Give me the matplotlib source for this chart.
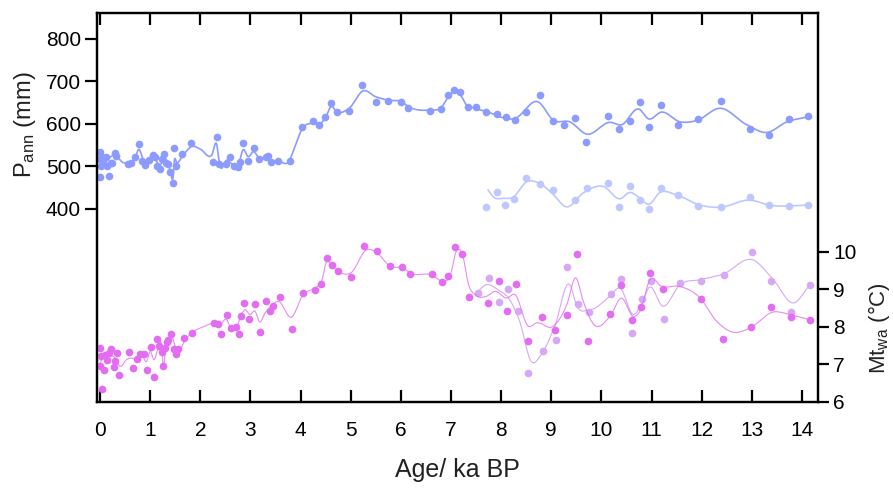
import numpy as np
import matplotlib
matplotlib.use("Agg")
from matplotlib import pyplot as plt

plt.rcParams['font.family'] = ['Liberation Sans', 'DejaVu Sans']
plt.rcParams['mathtext.fontset'] = 'custom'
plt.rcParams['mathtext.rm'] = 'Liberation Sans'
plt.rcParams['mathtext.it'] = 'Liberation Sans'

# P_ann, main record (points)
p_age = [0.0, 0.0, 0.0, 0.02, 0.05, 0.07, 0.11, 0.14, 0.17, 0.21, 0.24, 0.30, 0.32,
         0.56, 0.61, 0.69, 0.77, 0.84, 0.90, 0.98, 1.05, 1.09, 1.14, 1.19, 1.24, 1.28,
         1.31, 1.35, 1.39, 1.46, 1.47, 1.52, 1.64, 1.81, 2.26, 2.33, 2.38, 2.51, 2.59,
         2.67, 2.76, 2.80, 2.85, 2.95, 3.07, 3.17, 3.31, 3.36, 3.42, 3.56, 3.79, 4.03,
         4.25, 4.37, 4.49, 4.61, 4.72, 4.97, 5.23, 5.50, 5.75, 6.00, 6.15, 6.59, 6.81,
         6.94, 7.06, 7.19, 7.33, 7.49, 7.70, 7.91, 8.09, 8.28, 8.50, 8.78, 9.04, 9.26,
         9.48, 9.69, 10.14, 10.35, 10.57, 10.77, 10.94, 11.19, 11.52, 11.93, 12.39,
         12.96, 13.35, 13.75, 14.13]
p_val = [535, 517, 476, 500, 523, 511, 523, 500, 478, 508, 509, 531, 525,
         505, 509, 523, 553, 513, 504, 515, 527, 523, 500, 493, 517, 529,
         508, 505, 488, 462, 543, 501, 529, 555, 511, 570, 505, 505, 523,
         501, 499, 511, 555, 513, 543, 517, 522, 525, 510, 513, 513, 592,
         608, 597, 616, 650, 628, 631, 692, 652, 655, 652, 637, 631, 635,
         668, 680, 675, 641, 641, 629, 624, 616, 610, 627, 667, 608, 597,
         614, 557, 619, 588, 608, 652, 593, 644, 597, 611, 655,
         589, 573, 612, 618]
# P_ann, main record (smoothed curve)
p_curve_age = [0.0, 0.1, 0.3, 0.45, 0.56, 0.7, 0.77, 0.87, 1.06, 1.2, 1.3, 1.4, 1.46,
               1.48, 1.53, 1.66, 1.83, 2.0, 2.23, 2.33, 2.38, 2.53, 2.66, 2.76, 2.85,
               2.96, 3.06, 3.18, 3.32, 3.42, 3.59, 3.76, 3.89, 4.02, 4.25, 4.39, 4.49,
               4.61, 4.72, 4.97, 5.25, 5.5, 5.75, 6.02, 6.15, 6.58, 6.81, 6.95, 7.08,
               7.19, 7.31, 7.38, 7.71, 8.28, 8.74, 9.04, 9.37, 9.71, 10.17, 10.4, 10.75,
               10.94, 11.2, 11.57, 11.9, 12.37, 12.9, 13.3, 13.7, 14.13]
p_curve_val = [522, 515, 527, 510, 508, 520, 540, 515, 523, 504, 519, 492, 478,
               511, 508, 527, 547, 541, 527, 551, 508, 515, 504, 504, 539,
               523, 535, 519, 523, 515, 511, 511, 547, 586, 602, 601, 613,
               641, 629, 637, 678, 664, 656, 652, 641, 633, 639, 664, 676,
               668, 645, 641, 629, 613, 652, 609, 605, 576, 604, 598, 635,
               612, 628, 605, 608, 637, 598, 580, 605, 617]

# P_ann, second record
p2_age = [7.70, 7.91, 8.08, 8.26, 8.50, 8.78, 9.04, 9.48, 9.71, 10.14, 10.36, 10.57,
          10.77, 10.94, 11.19, 11.52, 11.92, 12.39, 12.96, 13.35, 13.75, 14.13]
p2_val = [405, 439, 409, 423, 474, 458, 445, 420, 449, 462, 405, 454,
          420, 400, 449, 433, 408, 404, 429, 409, 408, 409]
p2_curve_age = [7.74, 7.85, 8.04, 8.24, 8.51, 8.81, 9.01, 9.31, 9.64, 10.04, 10.37,
                10.57, 10.77, 10.94, 11.17, 11.5, 11.97, 12.37, 12.96, 13.36, 14.13]
p2_curve_val = [445, 428, 425, 428, 464, 457, 438, 405, 438, 453, 424,
                439, 425, 411, 439, 433, 409, 404, 421, 409, 409]

# Mt_wa, main record
t_age = [0.0, 0.03, 0.0, 0.05, 0.08, 0.10, 0.13, 0.18, 0.21, 0.27, 0.30, 0.33, 0.37,
         0.58, 0.65, 0.73, 0.80, 0.88, 0.94, 1.01, 1.08, 1.13, 1.18, 1.23, 1.26, 1.30,
         1.33, 1.36, 1.42, 1.48, 1.51, 1.56, 1.68, 1.84, 2.27, 2.36, 2.41, 2.54, 2.61,
         2.71, 2.78, 2.82, 2.88, 2.98, 3.09, 3.20, 3.32, 3.39, 3.45, 3.59, 3.82, 4.05,
         4.29, 4.40, 4.52, 4.63, 4.75, 5.00, 5.26, 5.52, 5.78, 6.03, 6.19, 6.62, 6.83,
         6.95, 7.09, 7.23, 7.36, 7.74, 7.95, 8.12, 8.30, 8.54, 8.82, 9.08, 9.31, 9.52,
         9.74, 10.18, 10.40, 10.61, 10.80, 10.97, 11.23, 11.98, 12.43, 12.99, 13.39,
         13.79, 14.17]
t_val = [7.44, 7.22, 6.95, 6.35, 6.86, 7.26, 7.13, 7.31, 7.41, 6.92, 7.08, 7.31, 6.71,
         7.33, 6.91, 7.15, 7.29, 7.29, 6.84, 7.47, 6.67, 7.68, 7.48, 7.32, 6.95, 7.45,
         7.61, 7.66, 7.81, 7.41, 7.29, 7.41, 7.70, 7.84, 8.11, 8.09, 7.82, 8.32, 7.97,
         7.99, 7.81, 8.30, 8.65, 8.21, 8.62, 7.87, 8.70, 8.42, 8.57, 8.80, 7.95, 8.91,
         8.98, 9.15, 9.84, 9.66, 9.48, 9.32, 10.17, 10.02, 9.62, 9.60, 9.42, 9.42, 9.19,
         9.35, 10.13, 9.95, 8.79, 8.64, 9.23, 8.43, 9.15, 7.63, 8.27, 7.93, 8.31, 9.94,
         7.63, 8.35, 9.11, 8.19, 8.52, 9.44, 9.00, 8.75, 7.69, 7.99, 8.52,
         8.26, 8.19]
t_curve_age = [0.0, 0.03, 0.17, 0.3, 0.4, 0.53, 0.63, 0.73, 0.83, 0.93, 1.0, 1.08,
               1.16, 1.23, 1.26, 1.31, 1.38, 1.43, 1.5, 1.56, 1.7, 1.83, 2.09, 2.29,
               2.39, 2.53, 2.59, 2.73, 2.82, 2.89, 2.99, 3.09, 3.19, 3.29, 3.39, 3.56,
               3.82, 4.05, 4.29, 4.42, 4.52, 4.63, 4.75, 5.0, 5.32, 5.53, 5.78, 6.05,
               6.19, 6.61, 6.85, 6.98, 7.11, 7.23, 7.35, 7.48, 7.71, 7.88, 8.11, 8.28,
               8.54, 8.71, 9.04, 9.31, 9.49, 9.64, 9.84, 10.17, 10.4, 10.64, 10.77,
               10.97, 11.2, 11.57, 11.97, 12.3, 12.63, 12.96, 13.43, 13.76, 14.16]
t_curve_val = [7.0, 7.13, 7.26, 7.17, 6.95, 7.13, 7.17, 7.13, 7.26, 7.08, 7.35, 7.13,
               7.44, 7.48, 6.95, 7.44, 7.66, 7.75, 7.48, 7.35, 7.66, 7.84, 8.02, 8.11,
               8.06, 8.19, 8.02, 8.02, 8.33, 8.46, 8.33, 8.42, 8.13, 8.37, 8.52, 8.68,
               8.26, 8.86, 9.04, 9.22, 9.75, 9.62, 9.48, 9.44, 10.06, 9.97, 9.62, 9.57,
               9.44, 9.39, 9.23, 9.35, 10.03, 9.93, 9.13, 8.86, 8.82, 8.95, 8.77, 8.86,
               8.02, 8.11, 8.02, 8.59, 9.31, 8.68, 8.08, 8.28, 8.77, 8.28, 8.42,
               9.26, 9.08, 9.08, 8.77, 8.15, 7.86, 7.97, 8.40, 8.33, 8.19]

# Mt_wa, second record
t2_age = [7.54, 7.76, 7.96, 8.14, 8.33, 8.54, 8.83, 9.09, 9.31, 9.53, 9.76, 10.19,
          10.40, 10.62, 10.81, 10.99, 11.25, 11.57, 11.98, 12.44, 13.00, 13.39, 13.79, 14.17]
t2_val = [8.91, 9.31, 8.66, 9.00, 8.43, 6.76, 7.37, 7.66, 9.60, 8.61, 8.39, 8.87,
          9.28, 7.84, 8.74, 9.23, 8.20, 9.17, 9.23, 9.39, 10.00, 9.23, 8.40, 9.11]
t2_curve_age = [7.5, 7.71, 7.94, 8.17, 8.37, 8.6, 8.8, 9.07, 9.37, 9.5, 9.77, 10.17,
                10.37, 10.64, 10.84, 10.94, 11.23, 11.57, 11.97, 12.43, 13.02, 13.43,
                13.83, 14.16]
t2_curve_val = [8.9, 9.13, 8.99, 8.73, 8.15, 7.08, 7.26, 8.02, 9.13, 8.59, 8.46, 8.82,
                9.04, 8.33, 8.73, 9.04, 8.55, 9.13, 9.26, 9.41, 9.79, 9.26, 8.64, 9.13]


def smooth(xs, ys, n=12):
    # cubic Hermite through the curve knots, just for drawing
    x = np.asarray(xs, float)
    y = np.asarray(ys, float)
    m = np.gradient(y, x)
    t = np.linspace(0, 1, n)
    out_x, out_y = [], []
    for i in range(len(x) - 1):
        h = x[i + 1] - x[i]
        h00 = 2 * t**3 - 3 * t**2 + 1
        h10 = t**3 - 2 * t**2 + t
        h01 = -2 * t**3 + 3 * t**2
        h11 = t**3 - t**2
        out_x.append(x[i] + h * t)
        out_y.append(h00 * y[i] + h10 * h * m[i] + h01 * y[i + 1] + h11 * h * m[i + 1])
    return np.concatenate(out_x), np.concatenate(out_y)


blue = '#8b9bff'
light_blue = '#bfc7ff'
magenta = '#e36cf2'
violet = '#d6a8f6'

fig = plt.figure(figsize=(8.93, 4.91), dpi=100)
ax = fig.add_axes([0.1086, 0.1813, 0.8074, 0.7922])
ax2 = ax.twinx()

x, y = smooth(p_curve_age, p_curve_val)
ax.plot(x, y, color=blue, lw=1.2)
ax.plot(p_age, p_val, 'o', color=blue, ms=5.5, mec='none')
x, y = smooth(p2_curve_age, p2_curve_val)
ax.plot(x, y, color=light_blue, lw=1.2)
ax.plot(p2_age, p2_val, 'o', color=light_blue, ms=5.5, mec='none')

x, y = smooth(t2_curve_age, t2_curve_val)
ax2.plot(x, y, color=violet, lw=0.8)
ax2.plot(t2_age, t2_val, 'o', color=violet, ms=5.5, mec='none')
x, y = smooth(t_curve_age, t_curve_val)
ax2.plot(x, y, color=magenta, lw=0.8, alpha=0.8)
ax2.plot(t_age, t_val, 'o', color=magenta, ms=5.5, mec='none')

ax.set_xlim(-0.06, 14.32)
ax.set_ylim(-54, 861)
ax2.set_ylim(6, 16.37)

ax.set_xticks(range(0, 15))
ax.set_yticks([400, 500, 600, 700, 800])
ax2.set_yticks([6, 7, 8, 9, 10])

for a in (ax, ax2):
    for s in a.spines.values():
        s.set_linewidth(1.6)

ax.tick_params(axis='x', direction='in', length=8.5, width=1.6, top=True,
               labelsize=15, pad=14)
ax.tick_params(axis='y', direction='out', length=8.5, width=1.6, labelsize=15, pad=3)
ax2.tick_params(axis='y', direction='out', length=8, width=1.6, labelsize=15, pad=3)

ax.set_xlabel('Age/ ka BP', fontsize=18, labelpad=13, color='#222222')
ax.set_ylabel(r'P$_{\mathrm{ann}}$ (mm)', fontsize=17, color='#222222')
ax.yaxis.set_label_coords(-0.082, 0.712)
ax2.set_ylabel(r'Mt$_{\mathrm{wa}}$ (°C)', fontsize=16, color='#222222')
ax2.yaxis.set_label_coords(1.066, 0.19)

fig.savefig('out.png', dpi=100)
